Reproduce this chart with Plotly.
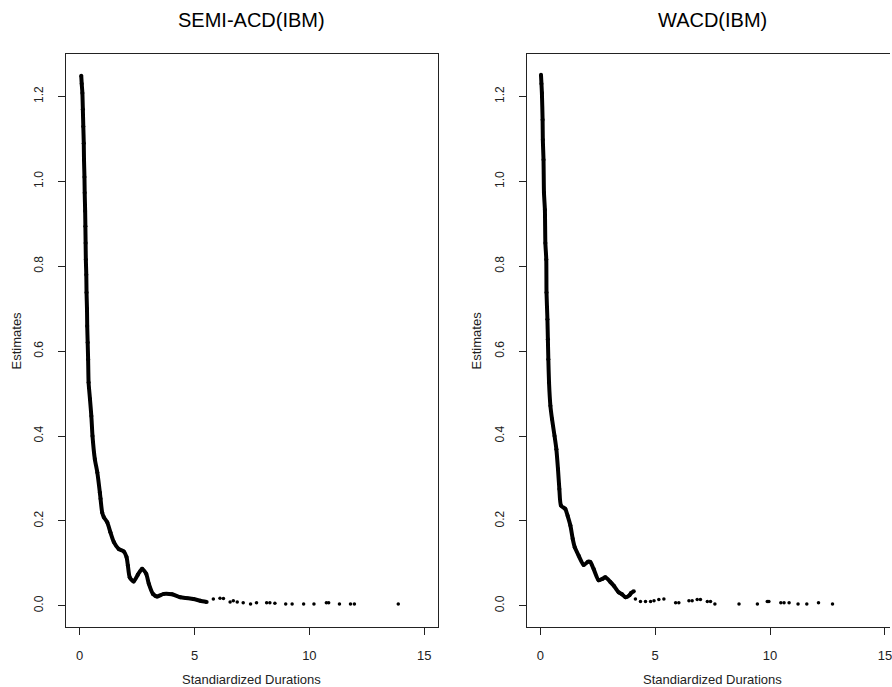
import plotly.graph_objects as go

# ---- data ----
semi_curve_x = [0.07, 0.09, 0.12, 0.14, 0.16, 0.18, 0.19, 0.21, 0.22, 0.24, 0.25, 0.26, 0.27, 0.29,
                0.30, 0.32, 0.33, 0.35, 0.37, 0.39, 0.45, 0.51, 0.56, 0.66, 0.77, 0.88, 0.91, 0.98,
                1.05, 1.20, 1.34, 1.49, 1.70, 1.92, 2.04, 2.10, 2.18, 2.35, 2.53, 2.72, 2.90, 3.01,
                3.19, 3.37, 3.66, 4.02, 4.38, 4.67, 4.95, 5.25, 5.53]
semi_curve_y = [1.249, 1.23, 1.208, 1.17, 1.129, 1.09, 1.051, 1.01, 0.973, 0.93, 0.894, 0.855, 0.816, 0.78,
                0.738, 0.70, 0.659, 0.62, 0.58, 0.526, 0.487, 0.447, 0.400, 0.346, 0.314, 0.267, 0.252, 0.220,
                0.209, 0.197, 0.173, 0.150, 0.134, 0.128, 0.115, 0.095, 0.067, 0.057, 0.073, 0.087, 0.075, 0.052,
                0.028, 0.022, 0.028, 0.027, 0.020, 0.018, 0.016, 0.012, 0.009]
semi_tail_x = [5.82, 6.11, 6.26, 6.55, 6.69, 6.86, 7.12, 7.44, 7.70, 8.14, 8.28, 8.50, 8.97, 9.25,
               9.75, 10.20, 10.74, 10.84, 11.31, 11.79, 11.96, 13.87]
semi_tail_y = [0.016, 0.018, 0.017, 0.009, 0.012, 0.009, 0.007, 0.004, 0.007, 0.007, 0.007, 0.006, 0.004, 0.004,
               0.004, 0.004, 0.007, 0.007, 0.004, 0.004, 0.004, 0.004]

wacd_curve_x = [0.03, 0.05, 0.07, 0.10, 0.11, 0.14, 0.16, 0.20, 0.22, 0.26, 0.27, 0.31, 0.33, 0.35,
                0.38, 0.44, 0.51, 0.62, 0.70, 0.77, 0.83, 0.90, 1.09, 1.19, 1.31, 1.41, 1.50, 1.67,
                1.89, 2.08, 2.18, 2.32, 2.54, 2.69, 2.83, 3.05, 3.20, 3.41, 3.56, 3.71, 3.88, 3.95, 4.07]
wacd_curve_y = [1.251, 1.23, 1.208, 1.145, 1.098, 1.051, 0.973, 0.933, 0.855, 0.816, 0.738, 0.675, 0.628, 0.581,
                0.526, 0.471, 0.440, 0.400, 0.369, 0.322, 0.275, 0.236, 0.228, 0.212, 0.189, 0.158, 0.138, 0.118,
                0.096, 0.104, 0.103, 0.087, 0.060, 0.063, 0.067, 0.056, 0.047, 0.032, 0.027, 0.020, 0.025, 0.030, 0.034]
wacd_tail_x = [4.14, 4.36, 4.58, 4.80, 4.95, 5.16, 5.38, 5.89, 6.03, 6.47, 6.61, 6.83, 6.97, 7.27,
               7.41, 7.60, 8.65, 9.45, 9.88, 9.95, 10.47, 10.61, 10.83, 11.22, 11.60, 12.11, 12.72]
wacd_tail_y = [0.016, 0.010, 0.010, 0.010, 0.012, 0.015, 0.016, 0.007, 0.007, 0.012, 0.012, 0.015, 0.015, 0.010,
               0.010, 0.004, 0.004, 0.004, 0.010, 0.010, 0.007, 0.007, 0.007, 0.004, 0.004, 0.007, 0.004]

titles = ["SEMI-ACD(IBM)", "WACD(IBM)"]
x_label = "Standiardized Durations"
y_label = "Estimates"
x_ticks = [0, 5, 10, 15]
y_ticks = [0.0, 0.2, 0.4, 0.6, 0.8, 1.0, 1.2]
y_tick_text = ["0.0", "0.2", "0.4", "0.6", "0.8", "1.0", "1.2"]

W, H = 892, 687
FONT = "Liberation Sans, Arial, sans-serif"

fig = go.Figure()
for xa, ya, cx, cy, tx, ty in [("x", "y", semi_curve_x, semi_curve_y, semi_tail_x, semi_tail_y),
                               ("x2", "y2", wacd_curve_x, wacd_curve_y, wacd_tail_x, wacd_tail_y)]:
    fig.add_trace(go.Scatter(x=cx, y=cy, mode="lines+markers", xaxis=xa, yaxis=ya,
                             line=dict(color="black", width=4, shape="spline", smoothing=0.6),
                             marker=dict(color="black", size=4), showlegend=False))
    fig.add_trace(go.Scatter(x=tx, y=ty, mode="markers", xaxis=xa, yaxis=ya,
                             marker=dict(color="black", size=3.5), showlegend=False))

ydom = [60 / H, 633 / H]
px_per_unit = 373 / 16.2
common_x = dict(tickmode="array", tickvals=x_ticks, ticks="outside", ticklen=7, tickwidth=1,
                tickcolor="#222", showline=True, linecolor="#222", linewidth=1, mirror=True,
                showgrid=False, zeroline=False, tickfont=dict(family=FONT, size=13, color="#222"),
                ticklabelstandoff=9, ticklabeloverflow="allow")
common_y = dict(tickmode="array", tickvals=y_ticks, ticktext=y_tick_text, ticks="outside", ticklen=7,
                tickwidth=1, tickcolor="#222", showline=True, linecolor="#222", linewidth=1,
                showgrid=False, zeroline=False, tickangle=-90, range=[-0.05, 1.30], domain=ydom,
                tickfont=dict(family=FONT, size=12, color="#222"), ticklabelstandoff=10)

fig.update_layout(
    width=W, height=H, margin=dict(l=0, r=0, t=0, b=0),
    paper_bgcolor="white", plot_bgcolor="white",
    xaxis=dict(common_x, domain=[66 / W, 439 / W], range=[-0.6, 15.6], anchor="y"),
    yaxis=dict(common_y, anchor="x", mirror=True),
    xaxis2=dict(common_x, domain=[527.7 / W, 1.0], range=[-0.6, -0.6 + (W - 527.7) / px_per_unit], anchor="y2"),
    yaxis2=dict(common_y, anchor="x2", mirror=False),
)

centers = [(66 + 439) / 2, (527.7 + 900.7) / 2]
ann = []
for i, c in enumerate(centers):
    ann.append(dict(text=titles[i], x=c / W, y=1 - 20 / H, xref="paper", yref="paper",
                    xanchor="center", yanchor="middle", showarrow=False,
                    font=dict(family=FONT, size=20, color="black")))
    ann.append(dict(text=x_label, x=c / W, y=1 - 679 / H, xref="paper", yref="paper",
                    xanchor="center", yanchor="middle", showarrow=False,
                    font=dict(family=FONT, size=13, color="#222")))
for xp in [17, 478]:
    ann.append(dict(text=y_label, x=xp / W, y=1 - 340.5 / H, xref="paper", yref="paper",
                    xanchor="center", yanchor="middle", showarrow=False, textangle=-90,
                    font=dict(family=FONT, size=13, color="#222")))
fig.update_layout(annotations=ann)

fig.write_html("out.html")
